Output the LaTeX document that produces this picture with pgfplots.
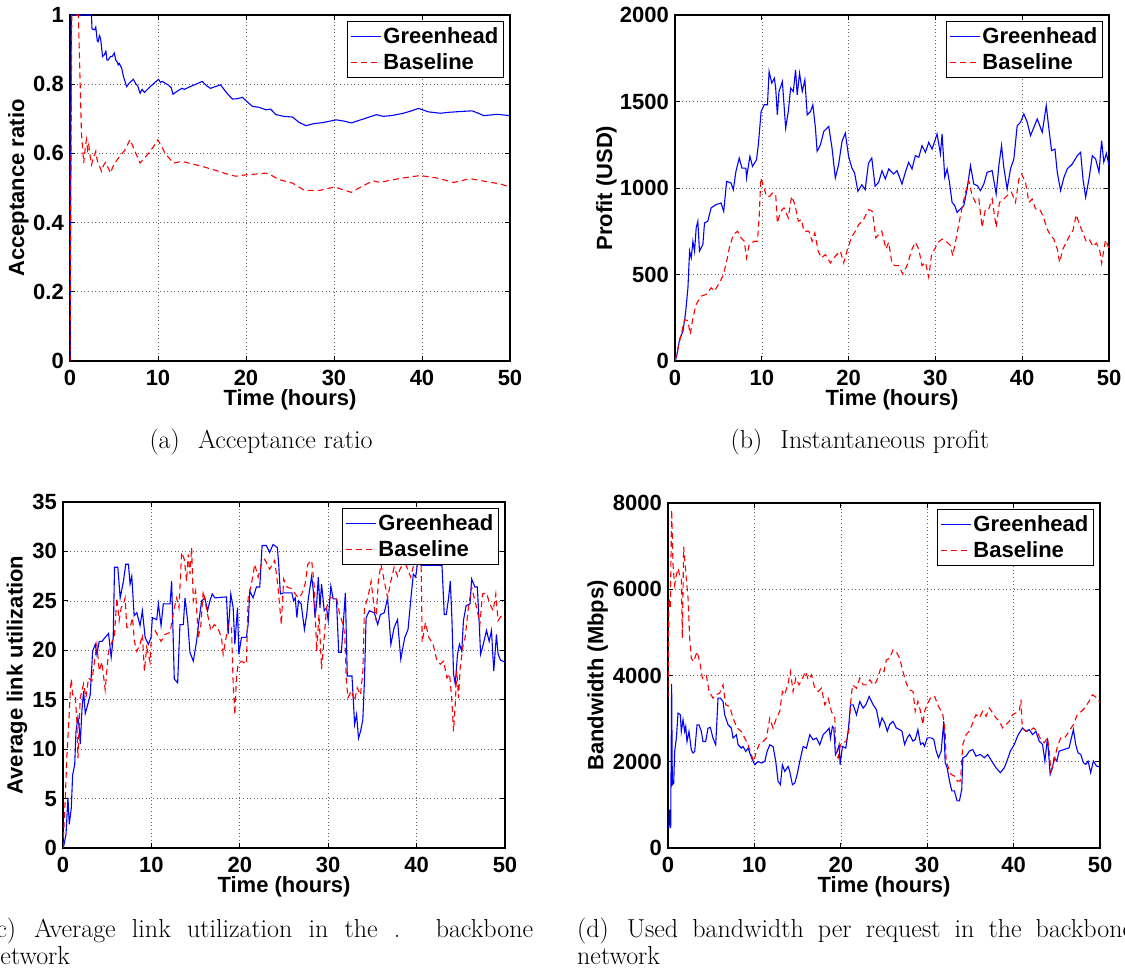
\documentclass[border=0pt]{standalone}
\usepackage{fontspec}
\usepackage{pgfplots}
\pgfplotsset{compat=1.18}
\newfontfamily\chartfont{Liberation Sans}
\newcommand\cf{\chartfont\bfseries\fontsize{22pt}{26pt}\selectfont}
\newcommand\capfont{\fontsize{26pt}{30pt}\selectfont}
\definecolor{mblue}{rgb}{0,0,1}
\definecolor{mred}{rgb}{1,0,0}

\pgfplotsset{
  panel/.style={
    scale only axis, anchor=south west,
    xmin=0, xmax=50, xtick={0,10,20,30,40,50},
    axis line style={line width=1.3pt},
    tick align=inside, major tick length=5pt,
    every tick/.style={black, line width=0.8pt},
    grid=major,
    major grid style={black!60, line width=0.6pt, dash pattern=on 1pt off 2.6pt},
    tick label style={font=\cf},
    /pgf/number format/assume math mode=true,
    /pgf/number format/1000 sep={},
    scaled ticks=false,
    xticklabel style={anchor=center, inner sep=0pt, yshift=-17pt},
    yticklabel style={anchor=east, inner sep=0pt, xshift=-6pt},
    every axis x label/.style={at={(axis description cs:0.5,0)}, anchor=center, yshift=-39pt, font=\cf},
    xlabel={Time (hours)},
    legend cell align=left,
    legend image code/.code={\draw[##1] (0pt,0pt) -- (30pt,0pt);},
    legend style={at={(axis description cs:1,1)}, anchor=north east,
      xshift=-6pt, yshift=-6pt, font=\cf, draw=black, line width=1.2pt,
      fill=white, inner xsep=3pt, inner ysep=4pt, row sep=5pt},
  },
  ylab/.style={every axis y label/.style={at={(axis description cs:#1,0.5)}, rotate=90, anchor=center, font=\cf}},
  gh/.style={color=mblue, line width=1.1pt},
  bl/.style={color=mred, line width=1.1pt, dash pattern=on 6pt off 4pt},
}

\begin{document}
\begin{tikzpicture}
\useasboundingbox (0pt,0pt) rectangle (1125pt,968pt);

% (a) acceptance ratio
\begin{axis}[panel, at={(70pt,607pt)}, width=440pt, height=346pt,
  ymin=0, ymax=1, ytick={0,0.2,0.4,0.6,0.8,1},
  ylab=-0.117, ylabel={Acceptance ratio}]
\addplot[gh] coordinates {(0,0) (0.15,1) (2.44,1) (2.5,0.96) (2.8,0.957) (2.93,0.965) (3.1,0.925) (3.2,0.923) (3.35,0.94) (3.47,0.933) (3.7,0.88) (3.9,0.885) (4.08,0.895) (4.2,0.87) (4.34,0.87) (4.6,0.88) (4.8,0.88) (5.03,0.89) (5.2,0.87) (5.35,0.865) (5.49,0.856) (5.6,0.86) (5.87,0.846) (6.1,0.82) (6.44,0.793) (6.8,0.805) (7.2,0.814) (7.5,0.8) (7.7,0.795) (7.96,0.774) (8.2,0.785) (8.46,0.776) (9.2,0.795) (10.06,0.814) (10.3,0.805) (10.5,0.808) (10.82,0.803) (11.2,0.797) (11.5,0.79) (11.7,0.771) (12.2,0.78) (12.73,0.788) (13.0,0.785) (13.49,0.791) (14.3,0.8) (15.02,0.808) (15.5,0.796) (15.97,0.788) (16.5,0.793) (17.11,0.798) (17.8,0.775) (18.45,0.757) (19.0,0.758) (19.59,0.762) (20.1,0.75) (20.73,0.736) (21.5,0.733) (22.26,0.726) (22.8,0.728) (23.41,0.712) (24.3,0.707) (25.3,0.705) (26.0,0.69) (26.83,0.68) (27.7,0.686) (28.73,0.689) (29.5,0.693) (30.26,0.697) (31.2,0.693) (31.97,0.688) (33.4,0.7) (34.83,0.712) (35.6,0.707) (36.7,0.71) (37.88,0.716) (38.8,0.723) (39.6,0.73) (40.74,0.72) (42.07,0.716) (43.2,0.719) (44.36,0.721) (45.69,0.723) (46.4,0.716) (47.03,0.709) (48.55,0.713) (50,0.709)};
\addplot[bl] coordinates {(0,0) (0.2,1) (0.95,1) (1.3,0.66) (1.56,0.572) (1.75,0.62) (1.87,0.64) (2.0,0.61) (2.13,0.625) (2.3,0.59) (2.44,0.567) (2.7,0.59) (2.93,0.606) (3.05,0.585) (3.2,0.572) (3.4,0.56) (3.58,0.548) (3.8,0.565) (4.04,0.574) (4.3,0.56) (4.61,0.543) (4.85,0.56) (5.1,0.572) (5.6,0.59) (6.25,0.61) (6.82,0.64) (7.4,0.605) (7.96,0.572) (8.4,0.585) (8.92,0.6) (9.5,0.62) (9.98,0.639) (10.4,0.62) (10.82,0.6) (11.3,0.585) (11.78,0.572) (12.73,0.577) (13.8,0.57) (15.02,0.5625) (16.0,0.555) (16.92,0.548) (17.9,0.54) (18.83,0.534) (19.97,0.538) (21.0,0.54) (22.26,0.543) (23.0,0.535) (23.78,0.524) (25.3,0.514) (26.0,0.503) (26.64,0.493) (28.35,0.493) (30.07,0.503) (31.0,0.495) (31.97,0.4875) (33.2,0.505) (34.45,0.521) (35.21,0.516) (36.5,0.523) (37.88,0.529) (39.79,0.536) (41.69,0.529) (43.6,0.516) (45.5,0.527) (47.41,0.518) (48.8,0.512) (50,0.503)};
\legend{Greenhead,Baseline}
\end{axis}

% (b) instantaneous profit
\begin{axis}[panel, at={(675pt,607pt)}, width=434pt, height=346pt,
  ymin=0, ymax=2000, ytick={0,500,1000,1500,2000},
  ylab=-0.158, ylabel={Profit (USD)}]
\addplot[gh] coordinates {(0,0) (0.2,30) (0.53,125) (0.92,173) (1.22,279) (1.49,423) (1.68,635) (1.87,596) (2.06,692) (2.25,635) (2.44,769) (2.63,808) (2.82,635) (3.21,673) (3.4,798) (3.78,808) (4.16,885) (4.73,904) (5.31,913) (5.61,865) (5.95,1038) (6.45,1029) (6.72,990) (7.02,1096) (7.4,1173) (7.71,1115) (8.17,1115) (8.24,1058) (8.63,1183) (8.93,1125) (9.39,1163) (9.62,1260) (9.92,1442) (10.27,1481) (10.65,1481) (10.84,1673) (11.15,1606) (11.45,1635) (11.6,1577) (11.79,1423) (11.98,1558) (12.37,1615) (12.75,1346) (13.05,1442) (13.32,1577) (13.63,1558) (13.89,1683) (14.08,1538) (14.35,1663) (14.66,1558) (14.96,1625) (15.23,1423) (15.61,1442) (15.88,1481) (16.18,1346) (16.37,1212) (16.76,1250) (17.14,1327) (17.71,1356) (18.09,1231) (18.47,1058) (18.85,1135) (19.24,1269) (19.62,1317) (20.0,1183) (20.38,1115) (20.69,1087) (21.07,981) (21.53,1019) (21.91,990) (22.29,1144) (22.67,1173) (23.05,1010) (23.46,1033) (23.85,1100) (24.23,1052) (24.62,1110) (25.19,1081) (25.58,1100) (26.15,1023) (26.54,1091) (26.92,1148) (27.31,1110) (27.69,1187) (28.08,1177) (28.46,1245) (28.85,1206) (29.23,1264) (29.62,1225) (30.19,1312) (30.58,1197) (30.77,1312) (31.08,1062) (31.35,1110) (31.62,1033) (31.92,917) (32.23,898) (32.5,859) (32.88,879) (33.27,898) (33.65,994) (34.04,1129) (34.42,1023) (34.81,1014) (35.19,985) (35.58,1023) (35.96,1091) (36.54,1100) (37.0,965) (37.31,1129) (37.62,1245) (37.88,1119) (38.27,994) (38.65,1110) (39.04,1168) (39.42,1360) (39.81,1380) (40.19,1428) (40.58,1380) (40.96,1303) (41.35,1351) (41.73,1399) (42.31,1322) (42.77,1476) (43.08,1341) (43.38,1216) (43.77,1225) (44.04,1091) (44.42,985) (44.81,1062) (45.19,1110) (45.77,1139) (46.35,1187) (46.73,1206) (47.0,1052) (47.31,946) (47.69,1052) (48.08,1187) (48.46,1168) (48.85,1091) (49.15,1274) (49.4,1150) (49.7,1200) (50,1130)};
\addplot[bl] coordinates {(0,0) (0.53,115) (1.11,240) (1.49,231) (1.76,154) (2.06,250) (2.44,327) (3.02,375) (3.59,385) (4.16,423) (4.54,404) (5.11,452) (5.5,490) (5.88,558) (6.26,654) (6.72,731) (7.21,750) (7.6,712) (7.98,692) (8.24,596) (8.55,673) (9.12,692) (9.5,692) (9.69,827) (9.89,1058) (10.15,1019) (10.53,952) (10.92,952) (11.22,971) (11.6,962) (11.79,798) (12.18,865) (12.56,885) (13.05,827) (13.44,952) (13.82,904) (14.2,808) (14.58,817) (14.85,750) (15.42,750) (15.8,692) (16.11,740) (16.49,635) (16.87,596) (17.33,615) (17.9,567) (18.47,606) (19.05,635) (19.43,567) (19.81,635) (20.31,712) (20.76,750) (21.15,788) (21.72,817) (22.29,875) (22.75,865) (23.13,712) (23.82,750) (24.31,647) (24.62,686) (25.0,561) (25.38,551) (25.77,551) (26.23,503) (26.73,551) (27.31,647) (27.69,686) (28.08,647) (28.46,551) (28.85,570) (29.23,484) (29.54,609) (29.92,647) (30.31,686) (30.77,705) (31.35,686) (31.73,667) (32.0,609) (32.38,705) (32.88,840) (33.46,975) (33.85,1042) (34.23,956) (34.62,917) (35.0,936) (35.38,773) (35.77,879) (36.15,879) (36.54,936) (37.0,773) (37.38,917) (37.88,936) (38.27,956) (38.77,975) (39.23,917) (39.62,1052) (39.92,1081) (40.38,1033) (40.77,917) (41.15,936) (41.54,879) (42.0,879) (42.38,840) (42.88,763) (43.27,724) (43.65,705) (44.04,647) (44.31,570) (44.69,647) (45.08,686) (45.46,724) (45.85,755) (46.23,845) (46.54,796) (47.0,739) (47.38,690) (47.77,700) (48.15,661) (48.54,681) (48.92,643) (49.15,565) (49.6,700) (50,650)};
\legend{Greenhead,Baseline}
\end{axis}

% (c) average link utilization
\begin{axis}[panel, at={(63pt,120pt)}, width=442pt, height=346pt,
  ymin=0, ymax=35, ytick={0,5,10,15,20,25,30,35},
  ylab=-0.104, ylabel={Average link utilization}]
\addplot[gh] coordinates {(0,0) (0.08,0.2) (0.34,1.35) (0.56,5.1) (0.71,2.4) (0.94,4.05) (1.09,7.4) (1.32,8.4) (1.47,11.8) (1.69,13.2) (1.84,12.2) (1.95,10.5) (2.14,13.9) (2.33,15.9) (2.52,13.6) (2.71,14.2) (3.08,15.5) (3.35,19.9) (3.65,20.6) (3.83,19.6) (4.1,20.9) (4.4,20.9) (4.77,21.3) (5.15,21.7) (5.45,19.3) (5.68,21.3) (5.83,28.4) (6.2,28.4) (6.47,25.3) (6.84,27.0) (7.1,28.7) (7.4,28.7) (7.59,26.7) (7.78,27.5) (8.05,23.5) (8.35,23.8) (8.72,22.5) (8.98,24.0) (9.29,21.3) (9.66,20.6) (9.96,21.3) (10.11,23.3) (10.6,23.1) (10.79,24.7) (11.09,22.5) (11.35,24.7) (12.11,24.7) (12.29,27.0) (12.59,17.1) (12.97,16.7) (13.23,22.6) (13.61,22.6) (13.8,25.3) (14.1,23.0) (14.36,19.8) (14.74,18.9) (15.11,20.9) (15.38,23.0) (15.68,25.0) (16.05,25.3) (16.35,24.0) (16.62,25.0) (16.88,25.7) (17.18,25.3) (18.5,25.4) (18.68,21.6) (18.98,25.7) (19.25,24.3) (19.44,20.6) (19.74,24.3) (19.89,19.6) (20.19,21.3) (20.75,21.3) (20.94,22.6) (21.13,26.0) (21.5,25.3) (21.88,26.4) (22.26,26.4) (22.52,30.6) (23.0,30.6) (23.38,29.9) (23.76,30.7) (24.25,30.4) (24.4,28.7) (24.59,25.7) (24.96,25.8) (25.9,25.8) (26.08,25.0) (26.27,25.3) (26.46,23.3) (26.64,25.0) (26.94,24.7) (27.31,22.1) (27.57,23.6) (27.76,25.3) (28.13,27.5) (28.32,26.0) (28.51,23.3) (28.69,24.7) (28.88,27.4) (29.07,24.3) (29.25,26.7) (29.55,24.0) (29.81,24.3) (30.0,23.0) (30.3,26.5) (30.56,25.2) (30.93,25.2) (31.19,19.8) (31.49,19.8) (31.68,22.3) (31.94,25.8) (32.05,21.6) (32.16,17.4) (32.69,17.4) (32.99,12.5) (33.21,13.5) (33.43,11.1) (33.66,11.8) (33.92,13.0) (34.1,16.9) (34.29,23.3) (34.66,24.0) (35.22,23.8) (35.6,22.6) (35.9,23.6) (36.34,23.8) (36.72,25.3) (37.09,20.6) (37.46,22.3) (37.84,23.1) (38.21,19.1) (38.66,21.3) (39.03,22.1) (39.33,25.0) (39.63,27.7) (39.89,27.4) (40.15,29.1) (40.5,28.6) (42.87,28.6) (43.13,23.6) (43.36,23.6) (43.62,25.3) (43.81,27.0) (43.99,23.3) (44.18,17.6) (44.37,16.6) (44.63,19.6) (44.85,20.6) (45.11,19.9) (45.3,23.0) (45.6,24.5) (46.04,24.7) (46.23,27.2) (46.6,26.4) (46.87,26.4) (47.09,22.6) (47.24,19.6) (47.46,20.3) (47.91,22.0) (48.21,20.9) (48.47,22.0) (48.73,17.9) (49.03,21.6) (49.22,19.6) (49.5,19.0) (50,18.8)};
\addplot[bl] coordinates {(0,0) (0.26,5.1) (0.45,9.5) (0.64,12.5) (0.83,15.9) (0.94,17.1) (1.09,15.5) (1.39,15.5) (1.58,12.5) (1.69,9.1) (1.95,15.2) (2.33,16.6) (2.59,15.2) (2.89,17.2) (3.27,16.9) (3.46,18.2) (3.83,20.6) (4.1,17.9) (4.4,18.8) (4.77,16.0) (5.15,19.9) (5.45,20.6) (5.83,21.6) (6.09,25.3) (6.35,23.0) (6.58,24.3) (6.84,24.7) (7.03,25.3) (7.22,22.3) (7.59,22.3) (7.86,23.3) (8.08,20.9) (8.35,19.9) (8.72,20.6) (8.98,21.6) (9.21,17.9) (9.47,20.3) (9.85,18.8) (10.04,22.0) (10.41,22.0) (11.09,20.9) (11.54,21.6) (12.11,21.8) (12.29,22.8) (12.59,24.3) (12.86,25.3) (13.12,24.3) (13.42,29.9) (13.72,29.2) (13.98,27.0) (14.17,29.7) (14.36,27.7) (14.55,30.4) (14.74,25.0) (15.0,26.0) (15.3,21.3) (15.6,22.6) (15.86,26.0) (16.13,24.7) (16.43,23.3) (16.73,22.0) (17.11,22.6) (17.48,22.3) (17.93,21.3) (18.12,19.6) (18.38,20.9) (18.68,22.6) (19.06,22.3) (19.25,16.6) (19.44,13.5) (19.62,17.2) (19.81,18.6) (20.19,18.9) (20.75,18.6) (20.94,25.3) (21.32,26.7) (21.69,28.7) (22.07,27.4) (22.44,28.7) (22.82,29.2) (23.38,28.2) (23.95,29.1) (24.32,26.4) (24.7,22.6) (24.96,27.2) (25.34,26.4) (25.9,26.2) (26.27,25.7) (26.64,25.3) (27.01,25.7) (27.39,26.7) (27.69,28.7) (28.13,29.1) (28.43,26.4) (28.69,19.9) (28.96,23.6) (29.25,18.1) (29.55,21.3) (29.81,24.3) (30.19,25.3) (30.93,25.3) (31.31,23.6) (31.68,22.6) (31.87,21.6) (32.05,16.9) (32.24,15.2) (32.61,15.9) (32.99,14.9) (33.28,16.2) (33.66,15.5) (33.92,17.9) (34.1,24.3) (34.48,25.3) (34.85,27.0) (35.15,24.7) (35.41,23.0) (35.67,27.0) (35.97,28.7) (36.34,27.0) (36.72,25.3) (37.09,27.0) (37.46,28.4) (37.84,27.5) (38.21,28.4) (38.77,28.7) (39.33,27.4) (39.63,28.5) (40.0,29.5) (40.5,29.5) (40.63,20.8) (41.0,22.8) (41.38,21.3) (41.87,20.6) (42.31,18.9) (42.69,18.6) (43.06,18.9) (43.43,17.2) (43.73,17.6) (43.99,14.9) (44.18,11.8) (44.37,14.5) (44.55,17.9) (44.74,15.2) (44.93,18.2) (45.22,20.3) (45.49,21.3) (45.86,24.3) (46.23,26.4) (46.6,25.0) (46.87,24.0) (47.16,22.6) (47.46,25.7) (47.91,25.8) (48.28,24.7) (48.66,24.0) (48.96,25.7) (49.22,23.0) (49.6,23.5) (50,23.3)};
\legend{Greenhead,Baseline}
\end{axis}

% (d) used bandwidth per request
\begin{axis}[panel, at={(668pt,120pt)}, width=432pt, height=345pt,
  ymin=0, ymax=8000, ytick={0,2000,4000,6000,8000},
  ylab=-0.163, ylabel={Bandwidth (Mbps)}]
\addplot[gh] coordinates {(0.1,450) (0.19,888) (0.31,463) (0.42,3800) (0.5,1467) (0.66,1505) (0.77,2239) (0.97,2548) (1.16,3127) (1.43,3088) (1.54,2702) (1.74,2972) (1.93,2702) (2.05,2818) (2.2,2470) (2.43,2702) (2.7,2277) (2.9,2200) (3.09,2239) (3.36,2856) (3.59,2856) (3.86,2702) (4.05,2470) (4.36,2470) (4.63,2779) (4.9,2795) (5.21,2548) (5.52,2393) (5.79,3474) (6.06,3474) (6.37,3397) (6.56,3088) (6.95,2856) (7.34,2779) (7.53,2548) (7.92,2625) (8.11,2393) (8.49,2316) (8.69,2355) (9.0,2239) (9.27,2316) (9.54,2162) (9.77,2046) (10.04,1930) (10.42,2007) (10.81,1969) (11.2,2007) (11.47,2239) (11.78,2393) (12.16,2355) (12.47,2007) (12.74,1544) (13.01,1467) (13.24,1930) (13.51,1776) (13.9,1891) (14.09,1776) (14.4,1467) (14.67,1505) (14.94,1698) (15.25,2007) (15.64,2355) (16.02,2316) (16.41,2625) (16.8,2509) (17.18,2548) (17.57,2393) (17.95,2625) (18.34,2702) (18.65,2779) (18.8,2548) (19.03,2818) (19.19,2779) (19.38,2162) (19.58,2239) (19.81,2393) (19.92,1930) (20.19,2355) (20.58,2316) (20.89,2779) (21.12,3320) (21.43,3320) (21.81,3088) (22.2,3397) (22.59,3242) (22.9,3320) (23.28,3513) (23.75,3320) (24.13,3204) (24.5,2823) (24.77,3015) (25.08,2900) (25.38,2707) (25.65,2861) (26.04,2938) (26.42,2784) (26.81,2746) (27.08,2707) (27.38,2400) (27.69,2554) (27.96,2631) (28.35,2477) (28.62,2515) (28.92,2746) (29.23,2400) (29.5,2438) (29.69,2361) (30.0,2554) (30.46,2554) (30.77,2515) (31.04,2246) (31.31,2092) (31.62,2246) (31.92,2938) (32.08,1977) (32.31,1861) (32.58,1554) (32.85,1323) (33.15,1323) (33.46,1092) (33.73,1092) (34.0,1361) (34.12,2092) (34.5,2131) (34.88,2246) (35.27,2284) (35.65,2131) (36.15,2169) (36.62,2092) (37.0,2169) (37.46,2015) (37.96,1861) (38.46,1746) (38.92,1861) (39.23,2015) (39.62,2246) (40.08,2400) (40.54,2631) (41.04,2784) (41.42,2707) (41.81,2746) (42.19,2631) (42.58,2707) (42.96,2477) (43.35,2400) (43.62,2015) (43.92,2554) (44.23,1707) (44.5,1861) (44.69,2092) (45.0,2015) (45.27,2246) (45.85,2284) (46.42,2323) (46.92,2746) (47.19,2400) (47.46,2207) (47.77,2169) (48.08,1977) (48.35,1938) (48.62,2015) (48.92,1746) (49.23,2015) (49.6,1900) (50,1880)};
\addplot[bl] coordinates {(0,3500) (0.12,5790) (0.27,5558) (0.42,7836) (0.58,6562) (0.77,6099) (0.97,6331) (1.16,6485) (1.35,6331) (1.54,6253) (1.66,4864) (1.81,6987) (2.05,6408) (2.32,5790) (2.51,4864) (2.7,4400) (2.97,4323) (3.36,4555) (3.67,4323) (3.98,3937) (4.44,4014) (4.75,3628) (5.21,3474) (5.52,3551) (5.98,3590) (6.37,3783) (6.68,3320) (7.14,3281) (7.53,3011) (8.0,2779) (8.49,2702) (8.88,2548) (9.27,2393) (9.65,2162) (9.92,2007) (10.23,2239) (10.62,2432) (11.0,2470) (11.39,2548) (11.78,3011) (12.16,2779) (12.55,3011) (12.93,3165) (13.24,3628) (13.51,3551) (13.9,3821) (14.17,4091) (14.48,3628) (14.79,3937) (15.17,3783) (15.56,3937) (15.95,4091) (16.22,3899) (16.6,4014) (16.99,3705) (17.37,3628) (17.76,3705) (18.15,3320) (18.53,3474) (18.92,3165) (19.31,3011) (19.42,2200) (19.69,2084) (19.96,2393) (20.35,2432) (20.73,2509) (20.97,2779) (21.12,3320) (21.35,3783) (21.81,3705) (22.2,3937) (22.59,3783) (22.97,3783) (23.36,3899) (23.75,3783) (24.13,3860) (24.62,4169) (25.0,4092) (25.27,4361) (25.65,4400) (26.04,4592) (26.42,4553) (26.81,4400) (27.19,4092) (27.58,3823) (27.96,3669) (28.35,3630) (28.62,3169) (28.92,3400) (29.23,3169) (29.5,2861) (29.69,3169) (30.08,3361) (30.46,3515) (30.85,3515) (31.31,3284) (31.81,3092) (32.08,2707) (32.19,2015) (32.46,1861) (32.77,1707) (33.15,1669) (33.46,1554) (33.85,1554) (34.12,2400) (34.5,2631) (34.88,2707) (35.27,2900) (35.65,3092) (36.04,3015) (36.42,3169) (36.81,3054) (37.19,3246) (37.58,3130) (37.96,3015) (38.35,2938) (38.73,2784) (39.12,2861) (39.5,2938) (39.88,3092) (40.27,3130) (40.65,3169) (40.85,3438) (41.0,2784) (41.42,2707) (41.81,2707) (42.31,2784) (42.69,2707) (43.15,2515) (43.54,2438) (43.92,2554) (44.12,2246) (44.31,1784) (44.69,2015) (45.08,2361) (45.46,2554) (45.92,2554) (46.42,2707) (46.92,2861) (47.38,3092) (47.85,3169) (48.23,3246) (48.73,3400) (49.12,3553) (49.5,3500) (50,3380)};
\legend{Greenhead,Baseline}
\end{axis}

% sub-figure captions
\node[anchor=base, inner sep=0pt, font=\capfont] at (261pt,519pt) {(a)\hspace{0.7em}Acceptance ratio};
\node[anchor=base, inner sep=0pt, font=\capfont] at (860pt,519pt) {(b)\hspace{0.7em}Instantaneous profit};
\node[anchor=base west, inner sep=0pt, font=\capfont] at (-13pt,30pt) {\makebox[546pt][s]{(c)\hspace{0.7em}Average link utilization in the . backbone}};
\node[anchor=base west, inner sep=0pt, font=\capfont] at (-13pt,3pt) {network};
\node[anchor=base west, inner sep=0pt, font=\capfont] at (577pt,30pt) {\makebox[556pt][s]{(d)\hspace{0.7em}Used bandwidth per request in the backbone}};
\node[anchor=base west, inner sep=0pt, font=\capfont] at (577pt,3pt) {network};
\end{tikzpicture}
\end{document}
